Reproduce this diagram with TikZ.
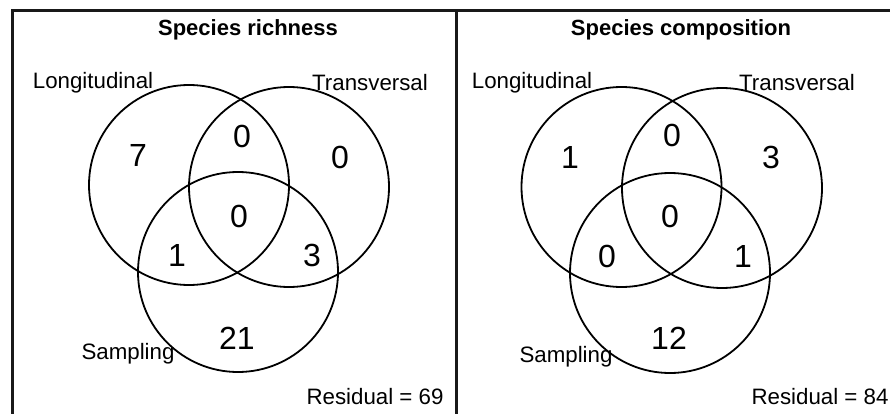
\documentclass[tikz,border=0pt]{standalone}
\usepackage{fontspec}
\setmainfont{Liberation Sans}
\begin{document}
\begin{tikzpicture}[x=1pt,y=-1pt,
  venn/.style={draw=black,line width=1.8pt,circle,minimum size=200pt,inner sep=0pt},
  num/.style={font=\fontsize{32}{32}\selectfont,inner sep=0pt},
  lab/.style={font=\fontsize{22.3}{23}\selectfont,inner sep=0pt},
  ttl/.style={font=\fontsize{22}{23}\selectfont\bfseries,inner sep=0pt},
  frame/.style={line width=3pt,draw=black!90}]
\useasboundingbox (0,0) rectangle (890,414);
% frame
\coordinate (tl) at (12.3,10.3);
\coordinate (tr) at (890,10.3);
\coordinate (bl) at (12.3,414);
\coordinate (dt) at (456.3,10.3);
\coordinate (db) at (456.3,414);
\draw[frame] (bl) -- (tl) -- (tr);
\draw[frame] (dt) -- (db);
% left panel
\node[venn] (L1) at (189,185) {};
\node[venn] (T1) at (289,187) {};
\node[venn] (S1) at (238,272) {};
\node[ttl] (t1) at (248,30) {Species richness};
\node[lab] (lL1) at (93,83) {Longitudinal};
\node[lab] (lT1) at (370,83) {Transversal};
\node[lab] (lS1) at (128,354) {Sampling};
\node[lab] (r1) at (375,397) {Residual = 69};
\node[num] (a1) at (138,155) {7};
\node[num] (b1) at (242,136) {0};
\node[num] (c1) at (340,157) {0};
\node[num] (d1) at (239,216) {0};
\node[num] (e1) at (177,255) {1};
\node[num] (f1) at (312,255) {3};
\node[num] (g1) at (237,338) {21};
% right panel
\node[venn] (L2) at (621.5,187) {};
\node[venn] (T2) at (722,188) {};
\node[venn] (S2) at (670,273) {};
\node[ttl] (t2) at (681,30) {Species composition};
\node[lab] (lL2) at (532,83) {Longitudinal};
\node[lab] (lT2) at (797,83) {Transversal};
\node[lab] (lS2) at (566,357) {Sampling};
\node[lab] (r2) at (820,397) {Residual = 84};
\node[num] (a2) at (570,157) {1};
\node[num] (b2) at (672,135) {0};
\node[num] (c2) at (771,157) {3};
\node[num] (d2) at (670,216) {0};
\node[num] (e2) at (607,256) {0};
\node[num] (f2) at (743,256) {1};
\node[num] (g2) at (669,338) {12};
\end{tikzpicture}
\end{document}
